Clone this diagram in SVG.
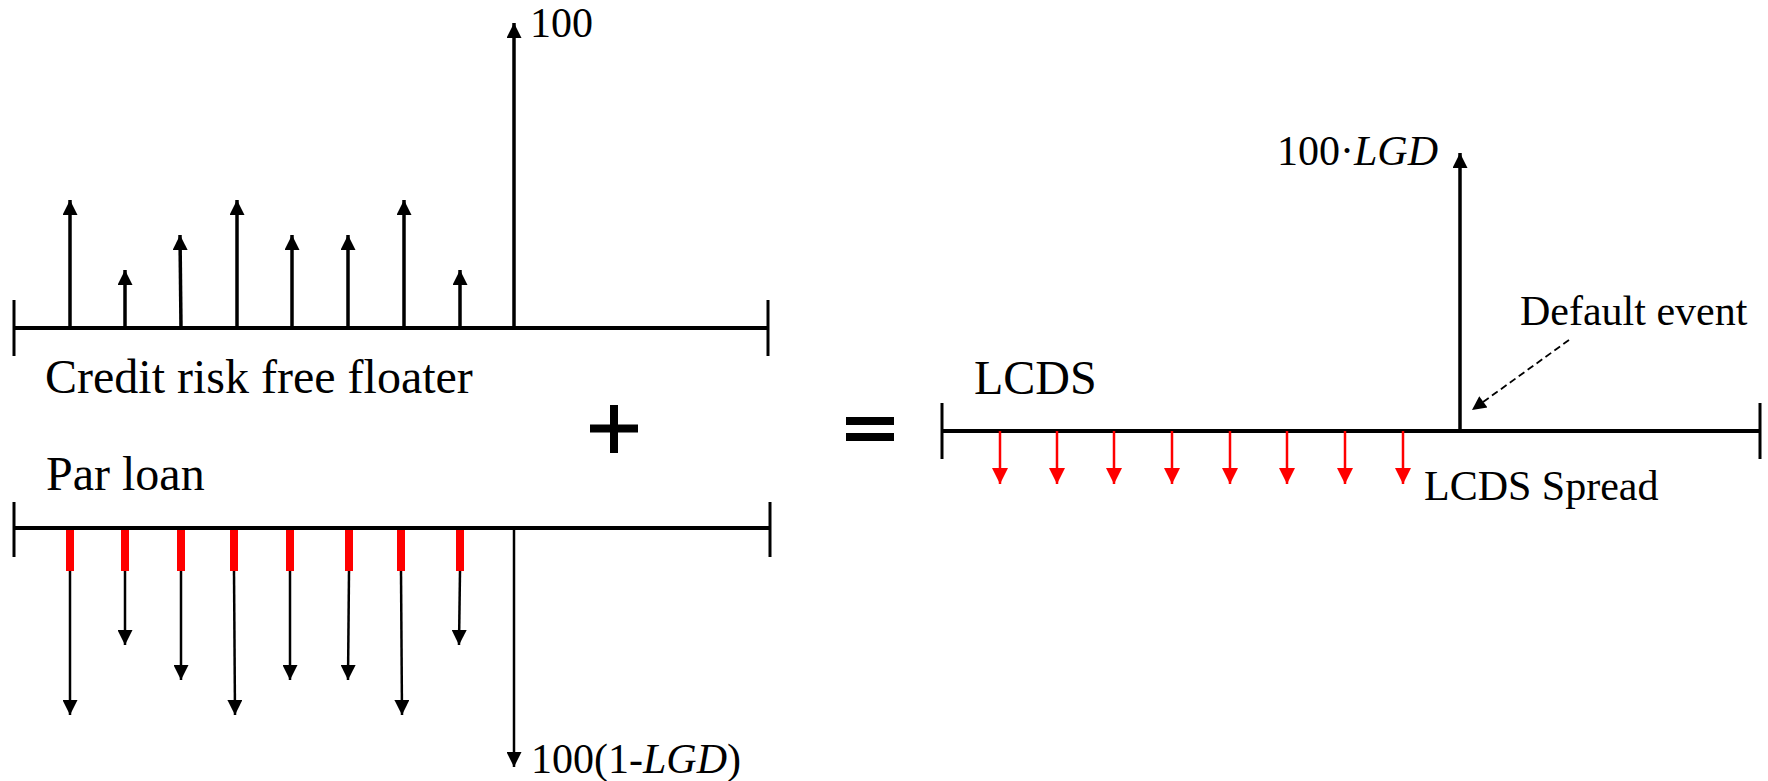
<svg xmlns="http://www.w3.org/2000/svg" width="1768" height="781" viewBox="0 0 1768 781">
<style>
.axis{stroke:#000;stroke-width:4;fill:none}
.tick{stroke:#000;stroke-width:3;fill:none}
.up{stroke:#000;stroke-width:3.5;fill:none;marker-end:url(#ah)}
.dn{stroke:#000;stroke-width:2.5;fill:none;marker-end:url(#ah)}
.rd{stroke:#f00;stroke-width:2.5;fill:none;marker-end:url(#ahr)}
.bar{fill:#f00}
.lbl{font-family:"Liberation Serif","Times New Roman",serif;fill:#000}
.big{font-size:48px}
.med{font-size:42px}
.sym{fill:#000}
</style>
<defs>
<marker id="ah" viewBox="0 0 10 10" refX="10" refY="5" markerUnits="userSpaceOnUse" markerWidth="16" markerHeight="15" orient="auto"><path d="M0,0 L10,5 L0,10 z" fill="#000"/></marker>
<marker id="ahr" viewBox="0 0 10 10" refX="10" refY="5" markerUnits="userSpaceOnUse" markerWidth="16" markerHeight="16" orient="auto"><path d="M0,0 L10,5 L0,10 z" fill="#f00"/></marker>
<marker id="ahs" viewBox="0 0 10 10" refX="10" refY="5" markerUnits="userSpaceOnUse" markerWidth="17" markerHeight="14" orient="auto"><path d="M0,0 L10,5 L0,10 z" fill="#000"/></marker>
</defs>

<g id="floater">
<line class="axis" x1="14" y1="328" x2="768" y2="328"/>
<line class="tick" x1="14" y1="300" x2="14" y2="356"/>
<line class="tick" x1="768" y1="300" x2="768" y2="356"/>
<text class="lbl big" x="45" y="393">Credit risk free floater</text>
<text class="lbl med" x="530" y="37">100</text>
</g>

<g id="parloan">
<line class="axis" x1="14" y1="528" x2="770" y2="528"/>
<line class="tick" x1="14" y1="502" x2="14" y2="557"/>
<line class="tick" x1="770" y1="502" x2="770" y2="557"/>
<text class="lbl big" x="46" y="490">Par loan</text>
<g class="bar">
<rect x="66" y="530" width="8" height="41"/>
<rect x="121" y="530" width="8" height="41"/>
<rect x="177" y="530" width="8" height="41"/>
<rect x="230" y="530" width="8" height="41"/>
<rect x="286" y="530" width="8" height="41"/>
<rect x="345" y="530" width="8" height="41"/>
<rect x="397" y="530" width="8" height="41"/>
<rect x="456" y="530" width="8" height="41"/>
</g>
<text class="lbl med" x="531" y="773">100(1-<tspan font-style="italic">LGD</tspan>)</text>
</g>

<g id="plus">
<rect class="sym" x="610" y="405" width="8" height="48"/>
<rect class="sym" x="590" y="424.5" width="48" height="8"/>
</g>

<g id="equals">
<rect class="sym" x="846" y="417" width="48" height="8"/>
<rect class="sym" x="846" y="433" width="48" height="8"/>
</g>

<g id="lcds">
<line class="axis" x1="942" y1="431" x2="1760" y2="431"/>
<line class="tick" x1="942" y1="403" x2="942" y2="459"/>
<line class="tick" x1="1760" y1="403" x2="1760" y2="459"/>
<text class="lbl big" x="974" y="394">LCDS</text>
<text class="lbl med" x="1424" y="500">LCDS Spread</text>
<text class="lbl med" x="1438" y="165" text-anchor="end">100·<tspan font-style="italic">LGD</tspan></text>
<text class="lbl med" x="1520" y="325">Default event</text>
</g>

<g id="connectors">
<line class="up" x1="70" y1="328" x2="70" y2="200"/>
<line class="up" x1="125" y1="328" x2="125" y2="270"/>
<line class="up" x1="181" y1="328" x2="180" y2="235"/>
<line class="up" x1="237" y1="328" x2="237" y2="200"/>
<line class="up" x1="292" y1="328" x2="292" y2="235"/>
<line class="up" x1="348" y1="328" x2="348" y2="235"/>
<line class="up" x1="404" y1="328" x2="404" y2="200"/>
<line class="up" x1="460" y1="328" x2="460" y2="270"/>
<line class="up" x1="514" y1="328" x2="514" y2="23"/>

<line class="dn" x1="70" y1="571" x2="70" y2="715"/>
<line class="dn" x1="125" y1="571" x2="125" y2="645"/>
<line class="dn" x1="181" y1="571" x2="181" y2="680"/>
<line class="dn" x1="234" y1="571" x2="235" y2="715"/>
<line class="dn" x1="290" y1="571" x2="290" y2="680"/>
<line class="dn" x1="349" y1="571" x2="348" y2="680"/>
<line class="dn" x1="401" y1="571" x2="402" y2="715"/>
<line class="dn" x1="460" y1="571" x2="459" y2="645"/>
<line class="dn" x1="514" y1="528" x2="514" y2="767"/>

<line class="rd" x1="1000" y1="431" x2="1000" y2="484"/>
<line class="rd" x1="1057" y1="431" x2="1057" y2="484"/>
<line class="rd" x1="1114" y1="431" x2="1114" y2="484"/>
<line class="rd" x1="1172" y1="431" x2="1172" y2="484"/>
<line class="rd" x1="1230" y1="431" x2="1230" y2="484"/>
<line class="rd" x1="1287" y1="431" x2="1287" y2="484"/>
<line class="rd" x1="1345" y1="431" x2="1345" y2="484"/>
<line class="rd" x1="1403" y1="431" x2="1403" y2="484"/>

<line class="up" x1="1460" y1="431" x2="1460" y2="153"/>
<line x1="1569" y1="340" x2="1472" y2="410" stroke="#000" stroke-width="1.8" stroke-dasharray="7,4" marker-end="url(#ahs)"/>
</g>
</svg>
